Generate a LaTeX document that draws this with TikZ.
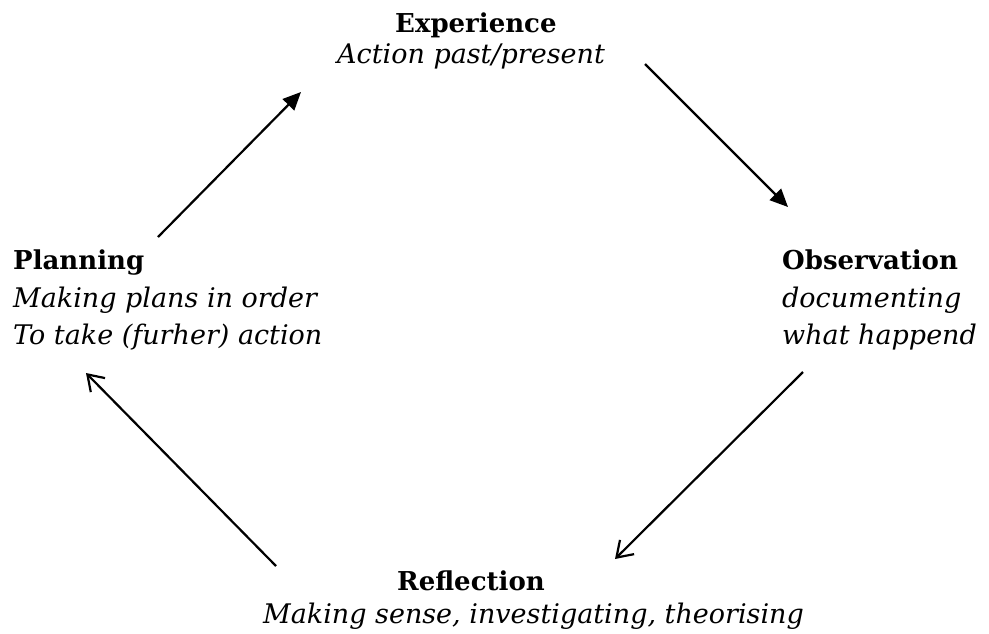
\documentclass[tikz,border=0pt]{standalone}
\usepackage{fontspec}
\setmainfont{DejaVu Serif}
\usetikzlibrary{arrows.meta}
\tikzset{
  ttl/.style={anchor=base west, inner sep=0pt, font=\bfseries\fontsize{26}{30}\selectfont},
  sub/.style={anchor=base west, inner sep=0pt, font=\itshape\fontsize{27}{32}\selectfont},
  solidarrow/.style={line width=2.2pt, -{Triangle[length=18pt,width=16pt]}},
  openarrow/.style={line width=2.2pt, -{Straight Barb[length=15pt,width=20pt]}},
}
\begin{document}
\begin{tikzpicture}[x=1pt,y=-1pt]
\useasboundingbox (0,0) rectangle (989,633);
% Experience
\node[ttl] (exp) at (395,32) {Experience};
\node[sub] (expsub) at (337,63) {Action past/present};
% Planning
\node[ttl] (plan) at (13,269) {Planning};
\node[sub] (plana) at (13,307) {Making plans in order};
\node[sub] (planb) at (13,344) {To take (furher) action};
% Observation
\node[ttl] (obs) at (782,269) {Observation};
\node[sub] (obsa) at (782,307) {documenting};
\node[sub] (obsb) at (782,344) {what happend};
% Reflection
\node[ttl] (refl) at (397,590) {Reflection};
\node[sub] (reflsub) at (263,623) {Making sense, investigating, theorising};
% arrow end points
\coordinate (a1s) at (158,237);
\coordinate (a1e) at (301,92);
\coordinate (a2s) at (645,64);
\coordinate (a2e) at (788,207);
\coordinate (a3s) at (803,372);
\coordinate (a3e) at (615,559);
\coordinate (a4s) at (276,566);
\coordinate (a4e) at (86,373);
\draw[solidarrow] (a1s) -- (a1e);
\draw[solidarrow] (a2s) -- (a2e);
\draw[openarrow] (a3s) -- (a3e);
\draw[openarrow] (a4s) -- (a4e);
\end{tikzpicture}
\end{document}
